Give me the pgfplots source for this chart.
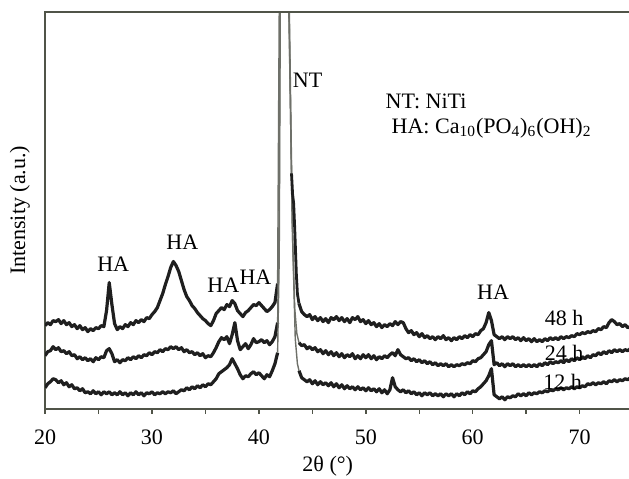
\documentclass[border=0pt]{standalone}
\usepackage{pgfplots}
\pgfplotsset{compat=1.18}
\usepackage{pgfplotstable}
\usepackage{fontspec}
\setmainfont{Liberation Serif}
\definecolor{axisgray}{RGB}{80,84,72}
\definecolor{peakgray}{RGB}{110,112,105}

\pgfplotstableread{
x a b c
20.00 21 53 83
20.25 25 57 86
20.50 27 58 84
20.75 30 62 88
21.00 29 59 87
21.25 26 61 89
21.50 28 57 85
21.75 24 58 88
22.00 26 55 84
22.25 22 57 86
22.50 24 53 82
22.75 20 54 84
23.00 21 50 80
23.25 18 52 83
23.50 20 49 79
23.75 16 51 81
24.00 17 48 77
24.25 15 50 80
24.50 18 47 78
24.75 15 51 81
25.00 17 49 80
25.25 14 52 83
25.50 17 51 82
25.75 15 58 98
26.00 17 60 126
26.25 14 55 104
26.50 16 47 85
26.75 14 49 79
27.00 17 46 82
27.25 14 49 80
27.50 16 48 84
27.75 13 51 82
28.00 16 49 86
28.25 14 52 84
28.50 17 50 88
28.75 14 53 86
29.00 16 51 89
29.25 13 54 87
29.50 16 53 91
29.75 15 56 90
30.00 17 54 94
30.25 14 57 97
30.50 16 56 101
30.75 15 59 108
31.00 17 57 115
31.25 15 60 124
31.50 17 59 132
31.75 16 62 141
32.00 18 60 147
32.25 15 62 143
32.50 17 59 137
32.75 19 61 128
33.00 18 57 119
33.25 21 59 112
33.50 19 56 108
33.75 22 57 103
34.00 20 54 100
34.25 23 56 96
34.50 21 53 93
34.75 24 55 90
35.00 22 51 88
35.25 25 53 85
35.50 24 52 83
35.75 27 56 88
36.00 30 61 95
36.25 35 67 98
36.50 37 71 101
36.75 39 69 99
37.00 41 72 104
37.25 44 65 102
37.50 50 74 108
37.75 45 86 105
38.00 40 68 98
38.25 34 59 95
38.50 30 62 92
38.75 33 65 96
39.00 32 60 98
39.25 35 64 101
39.50 37 70 104
39.75 34 66 103
40.00 36 67 106
40.25 33 69 103
40.50 30 66 100
40.75 34 68 97
41.00 32 64 99
41.25 38 67 102
41.50 45 72 106
41.75 56 86 125
}\leftdata

\pgfplotstableread{
x a b c
43.75 38 66 105
44.00 31 63 97
44.25 29 64 94
44.50 27 60 92
44.75 29 62 94
45.00 25 59 89
45.25 28 61 92
45.50 24 57 88
45.75 27 59 91
46.00 24 55 87
46.25 26 58 90
46.50 23 54 86
46.75 26 57 91
47.00 22 53 89
47.25 25 56 92
47.50 21 52 88
47.75 24 55 91
48.00 20 51 87
48.25 23 54 90
48.50 20 52 86
48.75 22 55 91
49.00 19 50 89
49.25 22 53 92
49.50 19 50 87
49.75 21 54 89
50.00 18 51 85
50.25 21 54 88
50.50 18 50 84
50.75 20 53 86
51.00 17 49 82
51.25 20 52 85
51.50 16 50 81
51.75 19 53 84
52.00 15 51 82
52.25 19 54 85
52.50 31 56 83
52.75 22 53 87
53.00 19 59 84
53.25 17 54 87
53.50 19 52 86
53.75 16 50 80
54.00 18 51 76
54.25 15 48 78
54.50 17 50 74
54.75 14 47 76
55.00 16 49 72
55.25 13 46 75
55.50 16 48 71
55.75 14 45 73
56.00 16 47 70
56.25 13 44 72
56.50 15 46 69
56.75 13 43 72
57.00 15 45 70
57.25 12 43 73
57.50 15 45 69
57.75 13 42 71
58.00 15 44 68
58.25 12 42 71
58.50 15 44 69
58.75 13 43 72
59.00 16 45 70
59.25 14 44 73
59.50 17 46 71
59.75 15 45 74
60.00 18 48 72
60.25 17 47 75
60.50 20 50 74
60.75 22 51 78
61.00 25 54 80
61.25 28 57 86
61.50 33 64 96
61.75 40 68 88
62.00 14 44 74
62.25 12 46 72
62.50 10 43 70
62.75 12 45 72
63.00 9 42 69
63.25 12 45 72
63.50 11 43 70
63.75 13 45 72
64.00 12 42 69
64.25 15 44 71
64.50 13 42 68
64.75 15 44 71
65.00 13 42 68
65.25 16 44 70
65.50 14 42 67
65.75 16 44 70
66.00 15 42 67
66.25 17 45 69
66.50 16 43 67
66.75 18 46 70
67.00 17 44 68
67.25 19 47 71
67.50 18 45 69
67.75 20 47 71
68.00 19 46 69
68.25 21 48 72
68.50 19 46 70
68.75 21 49 72
69.00 20 47 71
69.25 22 50 73
69.50 20 48 72
69.75 22 51 75
70.00 21 49 74
70.25 23 52 76
70.50 22 50 75
70.75 25 53 77
71.00 24 51 76
71.25 26 54 78
71.50 24 53 77
71.75 26 56 80
72.00 25 54 79
72.25 27 57 82
72.50 25 55 81
72.75 28 58 86
73.00 27 56 89
73.25 29 59 87
73.50 27 57 84
73.75 29 59 85
74.00 28 57 82
74.25 30 59 84
74.50 29 58 81
74.75 31 60 82
}\rightdata

\begin{document}
\begin{tikzpicture}[font=\fontsize{11}{13}\selectfont]
\begin{axis}[
  name=ax,
  scale only axis,
  width=292pt, height=198pt,
  xmin=20, xmax=74.73,
  ymin=0, ymax=396,
  axis line style={draw=axisgray, line width=0.9pt},
  xtick={20,30,40,50,60,70},
  minor xtick={25,35,45,55,65},
  ytick=\empty,
  xtick pos=bottom,
  tick align=outside,
  major tick length=2.5pt,
  minor tick length=2.5pt,
  every tick/.style={draw=axisgray, line width=0.7pt},
  /pgf/number format/assume math mode=true,
  xticklabel style={anchor=center, yshift=-11.5pt},
  xlabel={2θ (°)},
  xlabel style={at={(axis description cs:0.483,0)}, anchor=center, yshift=-28.5pt},
  ylabel={Intensity (a.u.)},
  ylabel style={at={(axis description cs:-0.0137,0.5)}, anchor=south, rotate=0},
  clip=true,
]
% noisy traces
\addplot[black!88, line width=1.6pt, line join=round] table[x=x,y=a] {\leftdata};
\addplot[black!88, line width=1.6pt, line join=round] table[x=x,y=b] {\leftdata};
\addplot[black!88, line width=1.6pt, line join=round] table[x=x,y=c] {\leftdata};
\addplot[black!88, line width=1.6pt, line join=round] table[x=x,y=a] {\rightdata};
\addplot[black!88, line width=1.6pt, line join=round] table[x=x,y=b] {\rightdata};
\addplot[black!88, line width=1.6pt, line join=round] table[x=x,y=c] {\rightdata};
% NiTi main peak (thin lines)
\addplot[peakgray, line width=0.7pt] coordinates {(41.75,56) (41.9,150) (42.0,396) (42.1,600) (42.4,1000) (42.75,600) (42.85,396) (43.15,170) (43.4,70) (43.6,45) (43.75,38)};
\addplot[peakgray, line width=0.7pt] coordinates {(41.75,86) (41.9,200) (41.97,396) (42.05,600) (42.35,1000) (42.7,600) (42.82,396) (43.1,190) (43.35,100) (43.55,75) (43.75,66)};
\addplot[peakgray, line width=0.7pt] coordinates {(41.75,125) (41.9,396) (42.0,600) (42.35,1000) (42.7,600) (42.8,396) (43.05,235)};
\addplot[black!88, line width=1.4pt, line join=round] coordinates {(43.05,235) (43.15,214) (43.25,205) (43.35,180) (43.5,135) (43.6,115) (43.75,105)};
% annotations
\node at (axis cs:44.56,328) {NT};
\node[anchor=west] at (axis cs:51.2,307) {NT: NiTi};
\node[anchor=west] at (axis cs:51.75,280) {HA: Ca\textsubscript{10}(PO\textsubscript{4})\textsubscript{6}(OH)\textsubscript{2}};
\node at (axis cs:26.37,144) {HA};
\node at (axis cs:32.84,166) {HA};
\node at (axis cs:36.68,123) {HA};
\node at (axis cs:39.68,131) {HA};
\node at (axis cs:61.9,116) {HA};
\node at (axis cs:68.55,91) {48 h};
\node at (axis cs:68.55,56) {24 h};
\node at (axis cs:68.4,27) {12 h};
\end{axis}
\draw[axisgray, line width=1.2pt] ([xshift=-0.45pt]ax.north west) -- (ax.north east);
\pgfresetboundingbox
\path ([xshift=-22.5pt,yshift=-35pt]ax.south west) rectangle ([xshift=-0.6pt,yshift=6pt]ax.north east);
\end{tikzpicture}
\end{document}
